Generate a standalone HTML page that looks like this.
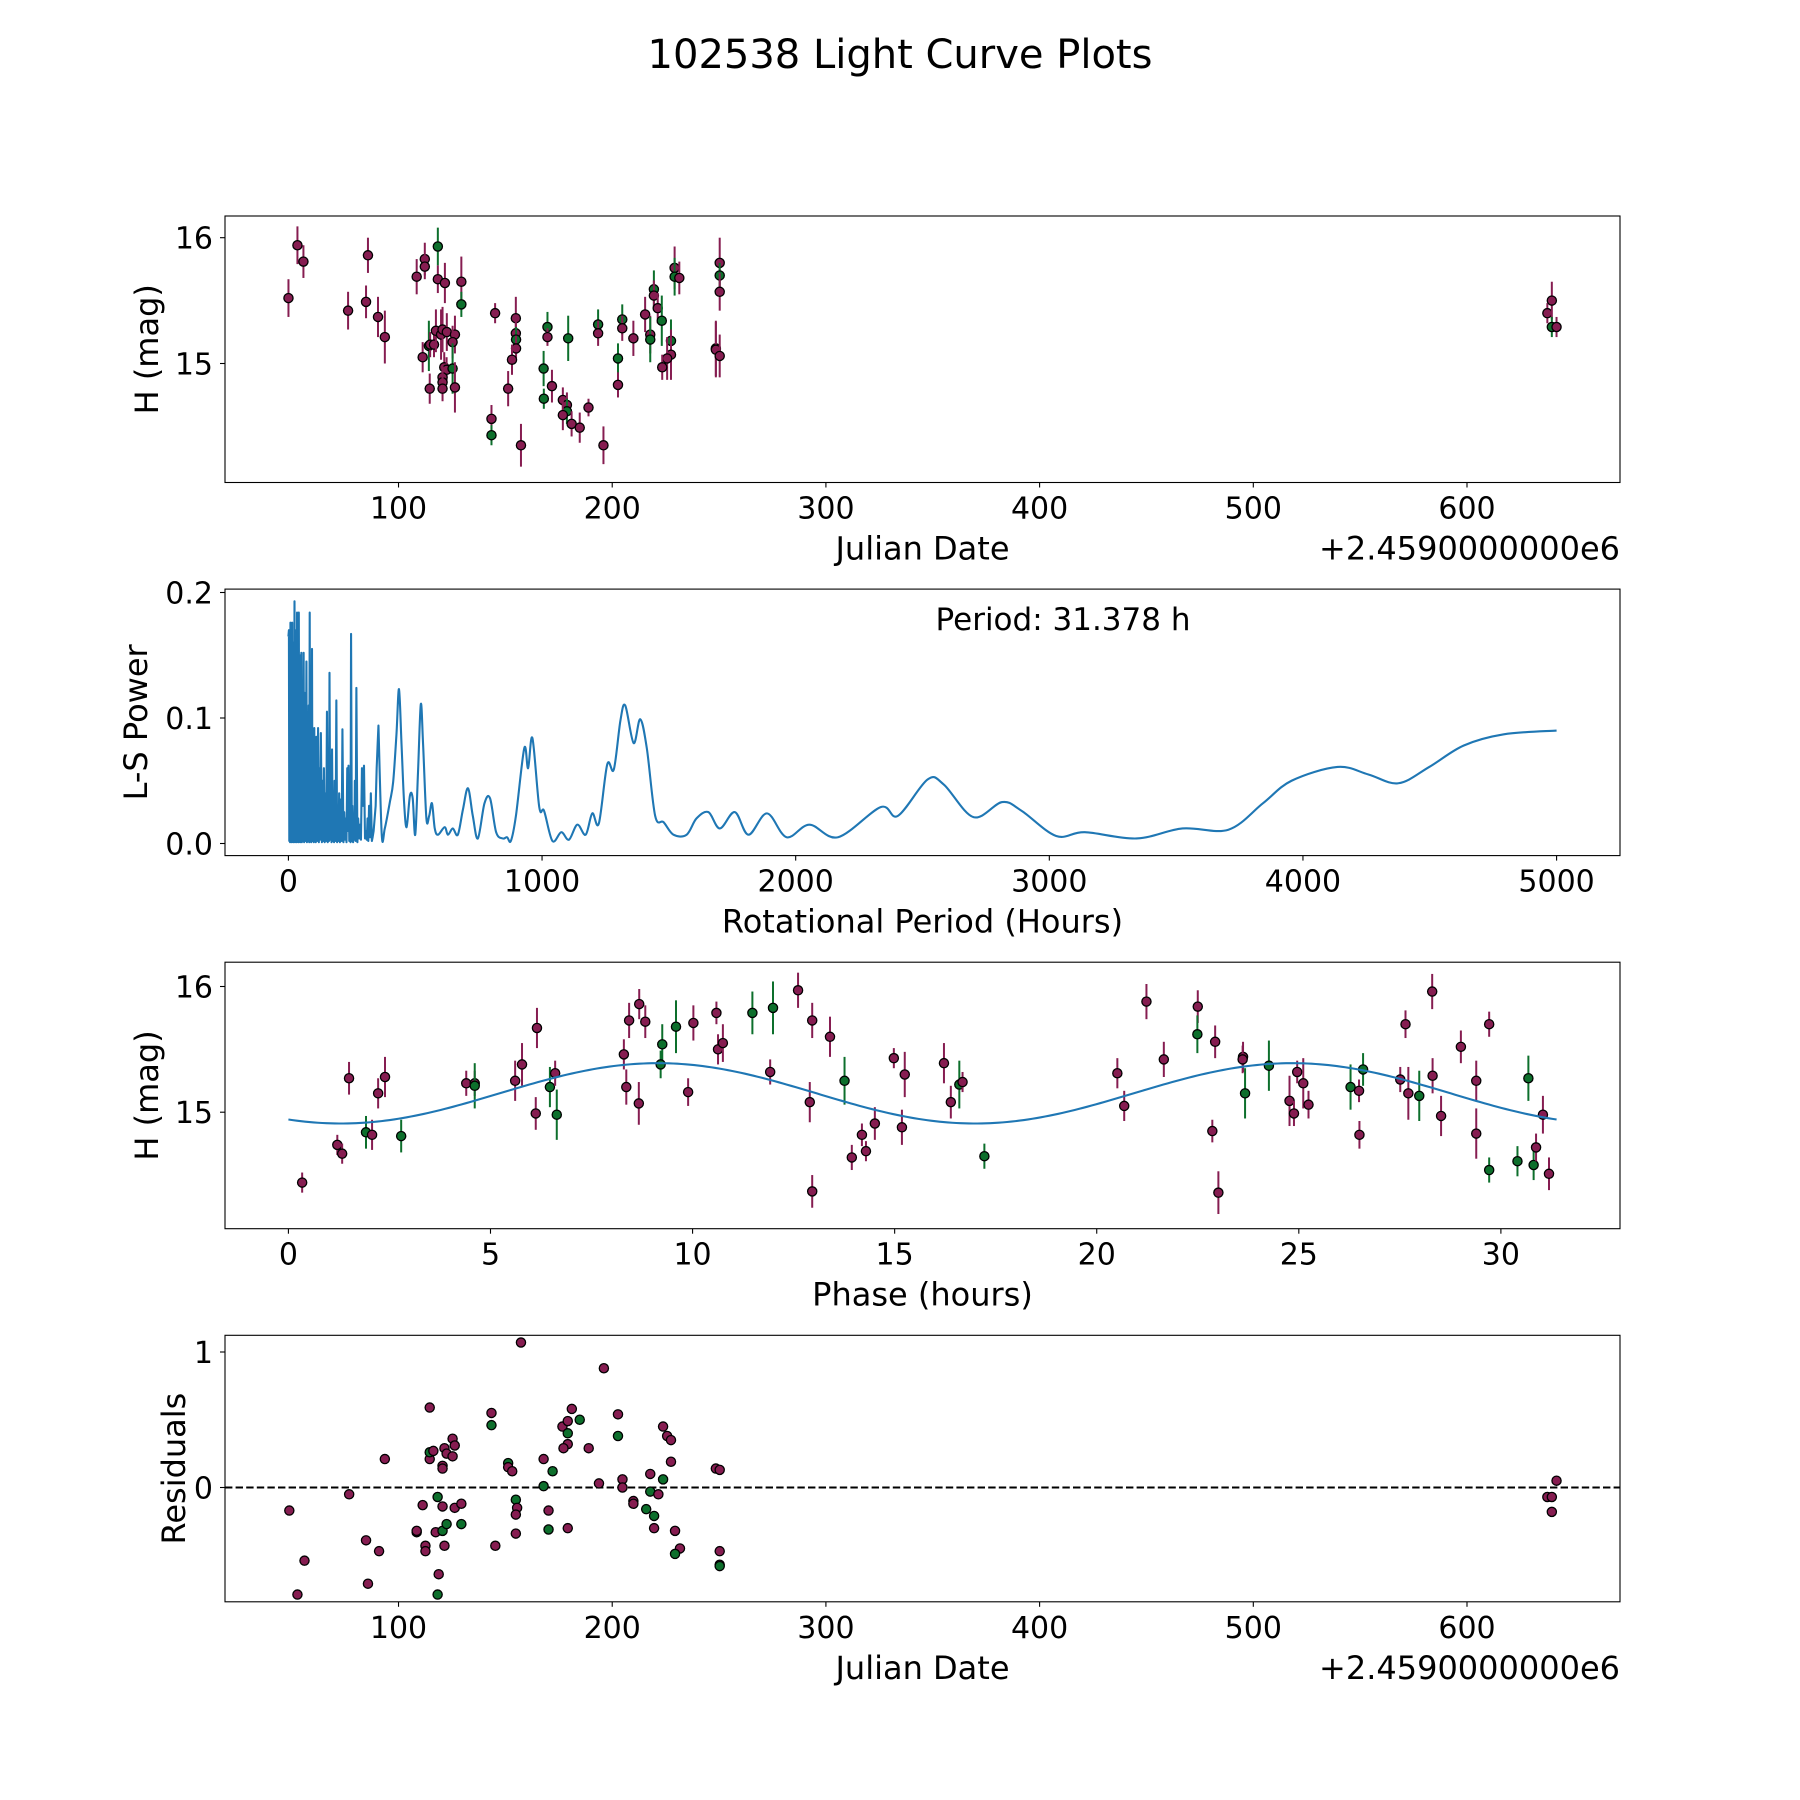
<!DOCTYPE html>
<html><head><meta charset="utf-8"><title>102538 Light Curve Plots</title>
<style>
html,body{margin:0;padding:0;background:#fff;}
svg{display:block;font-family:"DejaVu Sans","Liberation Sans",sans-serif;}
</style></head>
<body>
<svg id="fig" width="1800" height="1800" viewBox="0 0 1800 1800" xmlns="http://www.w3.org/2000/svg">
<rect width="1800" height="1800" fill="#fff"/>
<text x="900" y="68" font-size="40" text-anchor="middle">102538 Light Curve Plots</text>
</svg>
<script>
// ---- Panel 1: light curve data ----
const lcDate=[48.5,52.7,55.5,76.4,85.7,84.8,90.4,93.6,108.5,112.3,112.3,118.4,118.4,121.7,129.4,129.4,111.3,114.2,114.8,116.6,117.5,119.9,120.6,122.6,126.4,125.3,121.4,122.5,125.3,120.6,120.6,114.6,120.6,126.4,145.2,143.5,143.5,154.9,154.9,155.0,155.0,153.1,151.3,157.3,169.7,169.7,179.4,167.9,171.8,168.0,176.9,178.8,178.8,176.9,181.0,184.8,188.9,195.9,193.4,193.4,204.7,204.7,202.7,202.7,209.9,215.4,219.5,219.5,221.3,217.8,217.8,223.2,227.5,227.5,225.7,223.4,229.2,229.2,231.4,250.3,250.3,250.3,248.5,248.5,250.3,637.6,639.7,639.7,641.9];
const lcMag=[15.52,15.94,15.81,15.42,15.86,15.49,15.37,15.21,15.69,15.83,15.77,15.93,15.67,15.64,15.65,15.47,15.05,15.14,15.15,15.15,15.26,15.23,15.27,15.25,15.23,15.17,14.97,14.95,14.96,14.89,14.85,14.80,14.80,14.81,15.40,14.56,14.43,15.36,15.24,15.19,15.12,15.03,14.80,14.35,15.29,15.21,15.20,14.96,14.82,14.72,14.71,14.67,14.62,14.59,14.52,14.49,14.65,14.35,15.31,15.24,15.35,15.28,15.04,14.83,15.20,15.39,15.59,15.54,15.44,15.23,15.19,15.34,15.18,15.07,15.04,14.97,15.76,15.69,15.68,15.80,15.70,15.57,15.12,15.11,15.06,15.40,15.50,15.29,15.29];
const lcErr=[.15,.15,.13,.15,.14,.13,.16,.21,.14,.13,.10,.15,.11,.16,.20,.10,.12,.20,.10,.10,.17,.20,.18,.15,.15,.13,.12,.10,.20,.10,.10,.12,.10,.20,.08,.11,.08,.17,.10,.10,.10,.12,.14,.17,.12,.07,.18,.14,.13,.08,.10,.10,.10,.12,.10,.12,.07,.15,.12,.10,.12,.10,.12,.10,.14,.14,.15,.12,.12,.15,.18,.20,.17,.20,.17,.10,.17,.15,.13,.20,.10,.15,.22,.22,.17,.08,.15,.08,.08];
const lcCol="pppppppppppgpppgpgppppppppppgpppppppgppgppppgpggpgppgpppppgpgpgpppgpppggg ppppgppgppppppgpp".replace(/ /g,'').split('');

// ---- Panel 2: periodogram ----
const perSpike=[0,2,3.5,5,6.5,8,9.5,11,13,15,16.5,18,19.5,21,22.5,24,26,28,29.5,31,32.5,34,36,38,39.5,41,43,45,46.5,48,49.5,51,53,55,57,60,62,65,68,71,73,75,77,80,82,84,86,88,90,93,95,97,100,102,104,106,108,110,114,117,120,122,125,128,132,135,138,140,143,145,149,152,155,157,160,162,165,167,170,172,175,178,180,182,186,189,192,195,198,200,203,206,210,213,217,220,223,226,229,232,235,237,240,242,245,247,250,252,255,258,260,262,265,268,272,275,279,282,286,290,294,298,302,305,309,312,315,318,322,325,329,332,336,340,344,348,352];
const powSpike=[.165,.170,.002,.150,.001,.176,.002,.120,.001,.176,.003,.140,.001,.160,.002,.193,.001,.150,.002,.170,.001,.184,.002,.130,.001,.184,.002,.150,.001,.130,.002,.152,.001,.110,.002,.152,.001,.120,.002,.145,.001,.090,.002,.110,.001,.184,.002,.100,.001,.155,.002,.080,.001,.092,.002,.070,.001,.085,.002,.092,.001,.060,.003,.088,.001,.050,.002,.060,.001,.040,.002,.105,.001,.070,.002,.136,.003,.070,.001,.075,.002,.030,.001,.050,.002,.114,.001,.030,.002,.040,.001,.035,.002,.091,.001,.025,.003,.020,.001,.060,.010,.062,.002,.040,.001,.167,.002,.030,.001,.020,.003,.050,.002,.124,.001,.020,.004,.015,.003,.060,.030,.062,.004,.010,.003,.020,.002,.030,.005,.040,.002,.005,.010,.020,.030,.060,.080];
const perSmooth=[355,368,380,400,413,426,436,446,456,466,479,490,500,511,522,531,544,555,566,577,590,616,629,648,668,688,708,727,747,773,795,819,845,862,877,897,930,945,962,989,1008,1041,1076,1106,1139,1172,1198,1224,1257,1283,1309,1328,1361,1387,1413,1446,1479,1518,1570,1609,1656,1701,1760,1814,1887,1964,2054,2167,2335,2403,2520,2584,2701,2814,2891,3027,3140,3344,3525,3706,3842,3955,4136,4258,4376,4498,4633,4792,5000];
const powSmooth=[.094,.007,.012,.033,.049,.087,.123,.079,.033,.013,.038,.036,.007,.057,.111,.079,.020,.022,.032,.012,.007,.013,.007,.012,.007,.027,.044,.022,.004,.032,.036,.009,.004,.005,.002,.022,.076,.060,.084,.029,.026,.002,.009,.003,.015,.007,.024,.016,.063,.059,.098,.110,.080,.099,.076,.022,.017,.007,.007,.020,.025,.012,.025,.007,.024,.005,.015,.005,.029,.022,.051,.047,.021,.033,.026,.006,.009,.004,.012,.011,.032,.050,.061,.055,.048,.061,.078,.087,.090];
const bestPeriod="31.378";

// ---- Panel 3: phased data ----
const phPhase=[0.34,1.50,1.21,1.33,1.92,2.07,2.22,2.39,2.79,4.40,4.61,4.61,5.61,5.78,6.15,6.12,6.47,6.60,6.64,8.30,8.43,8.68,8.83,8.36,8.67,9.25,9.21,9.59,10.02,9.89,10.59,10.63,10.75,11.48,11.99,12.61,12.96,13.40,11.92,12.90,12.96,13.76,13.94,14.19,14.29,14.51,14.98,15.25,15.18,16.22,16.39,16.60,16.68,17.22,20.51,20.68,21.23,21.66,22.50,22.49,22.93,22.86,23.01,23.62,23.61,23.67,24.26,24.77,24.88,24.96,25.11,25.24,26.28,26.59,26.49,26.50,27.51,27.71,27.98,27.64,28.30,28.31,28.52,29.01,29.39,29.39,29.71,29.71,30.68,30.41,30.81,30.87,31.04,31.19];
const phMag=[14.44,15.27,14.74,14.67,14.84,14.82,15.15,15.28,14.81,15.23,15.23,15.21,15.25,15.38,15.67,14.99,15.20,15.31,14.98,15.46,15.73,15.86,15.72,15.20,15.07,15.54,15.38,15.68,15.71,15.16,15.79,15.50,15.55,15.79,15.83,15.97,15.73,15.60,15.32,15.08,14.37,15.25,14.64,14.82,14.69,14.91,15.43,15.30,14.88,15.39,15.08,15.22,15.24,14.65,15.31,15.05,15.88,15.42,15.84,15.62,15.56,14.85,14.36,15.44,15.42,15.15,15.37,15.09,14.99,15.32,15.23,15.06,15.20,15.34,15.17,14.82,15.26,15.15,15.13,15.70,15.96,15.29,14.97,15.52,15.25,14.83,15.70,14.54,15.27,14.61,14.58,14.72,14.98,14.51];
const phErr=[.08,.13,.08,.08,.13,.12,.12,.16,.13,.10,.10,.18,.16,.17,.16,.13,.16,.10,.20,.12,.14,.12,.13,.14,.17,.16,.11,.21,.14,.11,.09,.12,.15,.17,.21,.14,.14,.16,.10,.16,.13,.19,.10,.09,.08,.13,.08,.18,.14,.16,.13,.19,.08,.10,.12,.12,.14,.14,.13,.15,.13,.09,.17,.12,.11,.20,.20,.20,.10,.09,.20,.11,.18,.13,.09,.11,.10,.21,.20,.11,.14,.14,.16,.13,.16,.20,.10,.10,.18,.12,.12,.11,.15,.13];
const phCol="ppppgpppgppgppppgpgppppppgggpppppggpppppp gpppppppppgpgpppppgpppppggpppppggppp pgpp ppppp pgggg p".replace(/ /g,'').split('');
const fitMean=15.15, fitAmp=0.24, fitHalfPeriod=15.689, fitPhase0=1.3;

// ---- Panel 4: residuals ----
const resDate=[48.9,52.7,56.0,76.9,84.8,85.7,90.9,93.6,108.5,108.5,112.6,112.6,114.6,114.6,114.6,116.3,111.3,117.4,118.3,118.8,118.3,120.6,120.6,120.6,120.6,121.5,121.5,122.5,122.5,125.3,126.3,125.3,126.3,129.4,129.4,143.5,143.5,145.3,151.3,151.3,153.2,154.9,155.5,154.9,154.9,157.3,167.9,172.1,167.9,170.2,170.2,179.2,176.7,179.2,181.1,179.2,179.2,177.2,184.8,189.0,196.1,193.8,202.7,202.7,204.8,204.8,209.9,209.9,215.9,217.8,217.8,221.6,219.6,219.6,223.8,223.8,225.7,227.5,227.5,229.4,231.7,229.4,248.5,250.3,250.3,250.3,250.3,637.6,639.7,641.9,639.7];
const resVal=[-.17,-.79,-.54,-.05,-.39,-.71,-.47,.21,-.33,-.32,-.43,-.47,.59,.21,.26,.27,-.13,-.33,-.07,-.64,-.79,-.14,-.32,.16,.14,.29,-.43,.25,-.27,.36,.31,.23,-.15,-.12,-.27,.46,.55,-.43,.18,.15,.12,-.09,-.15,-.20,-.34,1.07,.21,.12,.01,-.17,-.31,-.30,.45,.49,.58,.40,.32,.29,.50,.29,.88,.03,.54,.38,.06,0,-.10,-.12,-.16,.10,-.03,-.05,-.21,-.30,.45,.06,.38,.35,.19,-.32,-.45,-.49,.14,.13,-.47,-.57,-.58,-.07,-.07,.05,-.18];
const resCol="ppppppppppppppgppp gpgpgpppp pgpppp pg gppgpp gpppppggpg ppp pgppgpp ppgpp ppgpgpgppgpppppgppppg".replace(/ /g,'').split('');
</script>
<script>
const NS="http://www.w3.org/2000/svg";
const svg=document.getElementById('fig');
const PURPLE="#861d51", GREEN="#0d6f2c", BLUE="#1f77b4";
function el(tag,attrs,parent){const e=document.createElementNS(NS,tag);for(const k in attrs)e.setAttribute(k,attrs[k]);(parent||svg).appendChild(e);return e;}
function lin(d0,d1,p0,p1){return v=>p0+(v-d0)*(p1-p0)/(d1-d0);}
const L=225,R=1620,H=266.5;
const tops=[216,589.1,962.2,1335.3];

function frame(i,name){
  const g=el('g',{});
  
  
  return g;
}
function spines(g,top,name){
  const r=el('rect',{x:L,y:top,width:R-L,height:H,fill:'none',stroke:'#000','stroke-width':1.1},g);
  
  
}
function xTicks(g,top,vals,labels,sx,name){
  vals.forEach((v,k)=>{
    const x=sx(v);
    el('line',{x1:x,x2:x,y1:top+H,y2:top+H+5,stroke:'#000','stroke-width':1.1},g);
    const t=el('text',{x:x,y:top+H+36,'font-size':30,'text-anchor':'middle'},g);
    t.textContent=labels[k];
    
    
  });
}
function yTicks(g,top,vals,labels,sy,name){
  vals.forEach((v,k)=>{
    const y=sy(v);
    el('line',{x1:L-5,x2:L,y1:y,y2:y,stroke:'#000','stroke-width':1.1},g);
    const t=el('text',{x:L-12,y:y+11,'font-size':30,'text-anchor':'end'},g);
    t.textContent=labels[k];
    
    
  });
}
function xLabel(g,top,txt,name){
  const t=el('text',{x:(L+R)/2,y:top+H+77,'font-size':32,'text-anchor':'middle'},g);
  t.textContent=txt;
  
  
}
function yLabel(g,top,txt,name,x){
  const cy=top+H/2;
  const t=el('text',{x:x,y:cy,'font-size':32,'text-anchor':'middle',transform:`rotate(-90 ${x} ${cy})`},g);
  t.textContent=txt;
  
  
}
function offsetText(g,top){
  const t=el('text',{x:R,y:top+H+77,'font-size':32,'text-anchor':'end'},g);
  t.textContent='+2.4590000000e6';
  
  
}
function clip(id,top){
  const cp=el('clipPath',{id:id});
  el('rect',{x:L,y:top,width:R-L,height:H},cp);
}
function marker(g,x,y,c,name){
  const m=el('circle',{cx:x,cy:y,r:4.6,fill:c==='g'?GREEN:PURPLE,stroke:'#000','stroke-width':1.3},g);
  
  
}
function errbar(g,x,y1,y2,c){
  const b=el('line',{x1:x,x2:x,y1:y1,y2:y2,stroke:c==='g'?GREEN:PURPLE,'stroke-width':2},g);
  
  
}

// Shared date axis
const sxDate=lin(18.8,671.6,L,R);
const dateTicks=[100,200,300,400,500,600];

// ---- Panel 1 ----
(function(){
  const top=tops[0];
  const g=frame(0,'light-curve-panel');
  const sy=lin(16,15,237.7,363.5);
  const d=el('g',{},g);
  
  
  lcDate.forEach((v,i)=>{
    const x=sxDate(v);
    errbar(d,x,sy(lcMag[i]+lcErr[i]),sy(lcMag[i]-lcErr[i]),lcCol[i]);
    marker(d,x,sy(lcMag[i]),lcCol[i],'light-curve-point');
  });
  spines(g,top,'light-curve');
  xTicks(g,top,dateTicks,dateTicks.map(String),sxDate,'light-curve');
  yTicks(g,top,[16,15],['16','15'],sy,'light-curve');
  xLabel(g,top,'Julian Date','light-curve-x-axis-title');
  offsetText(g,top);
  yLabel(g,top,'H (mag)','light-curve-y-axis-title',158);
})();

// ---- Panel 2 ----
(function(){
  const top=tops[1];
  const g=frame(1,'periodogram-panel');
  const sx=lin(-250,5250,L,R);
  const sy=lin(0,0.2,843.5,592.5);
  let d='';
  perSpike.forEach((p,i)=>{d+=(i?'L':'M')+sx(p).toFixed(2)+','+sy(powSpike[i]).toFixed(2);});
  const pts=perSmooth.map((p,i)=>[sx(p),sy(powSmooth[i])]);
  d+='L'+pts[0][0].toFixed(2)+','+pts[0][1].toFixed(2);
  for(let i=0;i<pts.length-1;i++){
    const p0=pts[Math.max(0,i-1)],p1=pts[i],p2=pts[i+1],p3=pts[Math.min(pts.length-1,i+2)];
    const c1=[p1[0]+(p2[0]-p0[0])/6,p1[1]+(p2[1]-p0[1])/6];
    const c2=[p2[0]-(p3[0]-p1[0])/6,p2[1]-(p3[1]-p1[1])/6];
    d+=`C${c1[0].toFixed(2)},${c1[1].toFixed(2)} ${c2[0].toFixed(2)},${c2[1].toFixed(2)} ${p2[0].toFixed(2)},${p2[1].toFixed(2)}`;
  }
  const line=el('path',{d:d,fill:'none',stroke:BLUE,'stroke-width':2.1,'stroke-linejoin':'round'},g);
  
  
  spines(g,top,'periodogram');
  const xt=[0,1000,2000,3000,4000,5000];
  xTicks(g,top,xt,xt.map(String),sx,'periodogram');
  yTicks(g,top,[0,0.1,0.2],['0.0','0.1','0.2'],sy,'periodogram');
  xLabel(g,top,'Rotational Period (Hours)','periodogram-x-axis-title');
  yLabel(g,top,'L-S Power','periodogram-y-axis-title',147);
  const t=el('text',{x:1063,y:630,'font-size':31,'text-anchor':'middle'},g);
  t.textContent='Period: '+bestPeriod+' h';
  
  
})();

// ---- Panel 3 ----
(function(){
  const top=tops[2];
  const g=frame(2,'phase-panel');
  const sx=lin(-1.569,32.947,L,R);
  const sy=lin(16,15,986.5,1112.2);
  const d=el('g',{},g);
  
  
  phPhase.forEach((v,i)=>{
    const x=sx(v);
    errbar(d,x,sy(phMag[i]+phErr[i]),sy(phMag[i]-phErr[i]),phCol[i]);
    marker(d,x,sy(phMag[i]),phCol[i],'phase-point');
  });
  let p='';
  const maxP=parseFloat(bestPeriod);
  for(let k=0;k<=300;k++){
    const ph=maxP*k/300;
    const m=fitMean-fitAmp*Math.cos(2*Math.PI*(ph-fitPhase0)/fitHalfPeriod);
    p+=(k?'L':'M')+sx(ph).toFixed(2)+','+sy(m).toFixed(2);
  }
  const c=el('path',{d:p,fill:'none',stroke:BLUE,'stroke-width':2.1},g);
  
  
  spines(g,top,'phase');
  const xt=[0,5,10,15,20,25,30];
  xTicks(g,top,xt,xt.map(String),sx,'phase');
  yTicks(g,top,[16,15],['16','15'],sy,'phase');
  xLabel(g,top,'Phase (hours)','phase-x-axis-title');
  yLabel(g,top,'H (mag)','phase-y-axis-title',158);
})();

// ---- Panel 4 ----
(function(){
  const top=tops[3];
  const g=frame(3,'residuals-panel');
  const sy=lin(0,1,1487.5,1352);
  const z=el('line',{x1:L,x2:R,y1:sy(0),y2:sy(0),stroke:'#000','stroke-width':2,'stroke-dasharray':'7.4,3.2'},g);
  
  
  const d=el('g',{},g);
  
  
  resDate.forEach((v,i)=>{
    marker(d,sxDate(v),sy(resVal[i]),resCol[i],'residual-point');
  });
  spines(g,top,'residuals');
  xTicks(g,top,dateTicks,dateTicks.map(String),sxDate,'residuals');
  yTicks(g,top,[1,0],['1','0'],sy,'residuals');
  xLabel(g,top,'Julian Date','residuals-x-axis-title');
  offsetText(g,top);
  yLabel(g,top,'Residuals','residuals-y-axis-title',185);
})();
</script>
</body></html>
